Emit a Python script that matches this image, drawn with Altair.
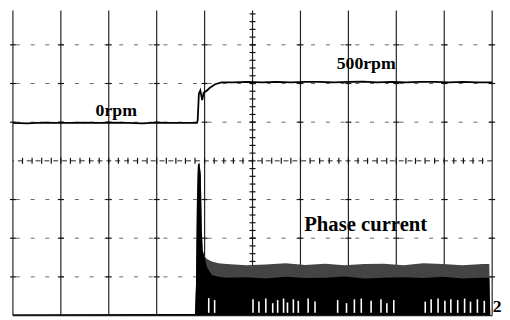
import altair as alt
import pandas as pd
import numpy as np

# ---- Speed trace (screen divisions, 0rpm ~ 1 div, 500rpm ~ 2 div) ----
spd_t = [0, 0.3, 0.6, 0.9, 1.2, 1.5, 1.8, 2.1, 2.4, 2.7, 3.0, 3.3, 3.6, 3.84,
         3.855, 3.87, 3.88, 3.91, 3.93, 3.95, 3.98, 4.05, 4.11, 4.22, 4.35,
         4.6, 4.9, 5.2, 5.5, 5.8, 6.1, 6.4, 6.7, 7.0, 7.3, 7.6, 7.9, 8.2, 8.5,
         8.8, 9.1, 9.4, 9.7, 10.0]
spd_v = [0.98, 0.97, 0.99, 0.98, 0.98, 0.99, 0.98, 0.99, 0.98, 0.97, 0.99, 0.98, 0.98, 0.98,
         1.05, 1.45, 1.73, 1.82, 1.70, 1.57, 1.76, 1.82, 1.89, 1.98, 2.03,
         2.03, 2.04, 2.03, 2.04, 2.03, 2.04, 2.04, 2.03, 2.04, 2.05, 2.03, 2.04, 2.03, 2.04,
         2.04, 2.03, 2.04, 2.03, 2.03]

# ---- Phase current envelope (screen divisions) ----
cur_t = [0, 3.80, 3.82, 3.84, 3.86, 3.89, 3.92, 3.94, 3.96, 4.00, 4.05, 4.15, 4.29,
         4.46, 4.87, 5.28, 5.69, 6.10, 6.51, 6.92, 7.33, 7.74, 8.15, 8.56, 8.97,
         9.38, 9.80, 9.94, 9.96]
cur_hi = [-3.97, -3.96, -3.2, -0.99, -0.10, -0.05, -0.36, -1.76, -2.32, -2.47, -2.54,
          -2.60, -2.65, -2.67, -2.70, -2.68, -2.65, -2.69, -2.66, -2.70, -2.67, -2.66,
          -2.70, -2.65, -2.67, -2.70, -2.67, -2.67, -3.97]
cur_core = [-3.97, -3.96, -3.2, -0.99, -0.10, -0.05, -0.36, -1.76, -2.32, -2.50, -2.75,
            -2.95, -3.00, -3.02, -3.01, -3.04, -3.00, -3.03, -3.02, -2.99, -3.04, -3.02,
            -3.01, -3.03, -3.00, -3.04, -3.02, -3.02, -3.97]
gap_x = [4.086, 4.209, 5.010, 5.133, 5.277, 5.421, 5.524, 5.647, 5.729, 5.852, 5.955,
         6.160, 6.304, 6.776, 6.961, 7.125, 7.269, 7.474, 7.680, 7.803, 7.947, 8.604,
         8.727, 8.871, 9.014, 9.138, 9.281, 9.425, 9.548, 9.692, 9.836]
gap_top = [-3.55, -3.60, -3.58, -3.64, -3.56, -3.68, -3.60, -3.56, -3.66, -3.58, -3.62,
           -3.56, -3.64, -3.60, -3.68, -3.58, -3.56, -3.62, -3.58, -3.68, -3.60, -3.64,
           -3.58, -3.56, -3.62, -3.58, -3.60, -3.56, -3.64, -3.58, -3.62]

labels = ["0rpm", "500rpm", "Phase current", "2"]

XS = alt.Scale(domain=[0, 10], nice=False, zero=False)
YS = alt.Scale(domain=[-4, 3.888], nice=False, zero=False)


def X(f):
    return alt.X(f, type="quantitative", scale=XS, axis=None)


def Y(f):
    return alt.Y(f, type="quantitative", scale=YS, axis=None)


# grid structure
vlines = pd.DataFrame({"x": list(range(0, 11))})
hlines = pd.DataFrame({"y": [-3, -2, -1, 1, 2, 3]})
border = pd.DataFrame({"y": [-4]})

tx = 0.062  # ~3px in x divisions
ty = 0.078  # ~3px in y divisions
minor_x = np.round(np.arange(0.2, 10.0, 0.2), 3)
minor_y = np.round(np.arange(-3.8, 3.9, 0.2), 3)
ticks_h = pd.DataFrame({"x": minor_x, "x2": minor_x, "y": -ty, "y2": ty})
ticks_v = pd.DataFrame({"x": 5 - tx, "x2": 5 + tx, "y": minor_y, "y2": minor_y})
maj = [(xx, yy) for xx in range(0, 11) for yy in [-3, -2, -1, 1, 2, 3]]
ticks_m = pd.DataFrame({"x": [m[0] - tx for m in maj], "x2": [m[0] + tx for m in maj],
                        "y": [m[1] for m in maj], "y2": [m[1] for m in maj]})

layers = []
layers.append(alt.Chart(hlines).mark_rule(color="#666", strokeWidth=1, strokeDash=[4, 11]).encode(y=Y("y")))
layers.append(alt.Chart(pd.DataFrame({"y": [0]})).mark_rule(color="#222", strokeWidth=1, strokeDash=[5, 4]).encode(y=Y("y")))
layers.append(alt.Chart(vlines).mark_rule(color="#222", strokeWidth=1.2).encode(x=X("x")))
layers.append(alt.Chart(border).mark_rule(color="#222", strokeWidth=1.2).encode(y=Y("y")))
for d in (ticks_h, ticks_v, ticks_m):
    layers.append(alt.Chart(d).mark_rule(color="#111", strokeWidth=1.2).encode(
        x=X("x"), x2="x2", y=Y("y"), y2="y2"))

cur = pd.DataFrame({"t": cur_t, "hi": cur_hi, "core": cur_core, "base": -4.0})
layers.append(alt.Chart(cur).mark_area(color="#444444", interpolate="linear").encode(
    x=X("t"), y=Y("hi"), y2="base"))
layers.append(alt.Chart(cur).mark_area(color="#000", interpolate="linear").encode(
    x=X("t"), y=Y("core"), y2="base"))
gaps = pd.DataFrame({"x": gap_x, "top": gap_top, "bot": -3.93})
layers.append(alt.Chart(gaps).mark_rule(color="#fff", strokeWidth=1.6).encode(
    x=X("x"), y=Y("top"), y2="bot"))

spd = pd.DataFrame({"t": spd_t, "v": spd_v})
layers.append(alt.Chart(spd).mark_line(color="#000", strokeWidth=1.8).encode(x=X("t"), y=Y("v")))

txt = pd.DataFrame({"label": labels,
                    "x": [1.725, 6.756, 6.078, 10.01],
                    "y": [1.17, 2.366, -1.807, -3.92],
                    "s": [18, 18, 21, 18]})
layers.append(alt.Chart(txt).mark_text(align="left", baseline="alphabetic",
                                       font="Liberation Serif", fontWeight="bold",
                                       color="#000").encode(
    x=X("x"), y=Y("y"), text="label:N", size=alt.Size("s:Q", scale=None)))

chart = alt.layer(*layers).properties(
    width=487, height=310,
    padding={"left": 5, "top": 0, "right": 10, "bottom": 2},
    autosize=alt.AutoSizeParams(type="none"),
    background="#ffffff",
).configure_view(stroke=None)

chart.save("out.html", embed_options={"renderer": "svg", "actions": False})
